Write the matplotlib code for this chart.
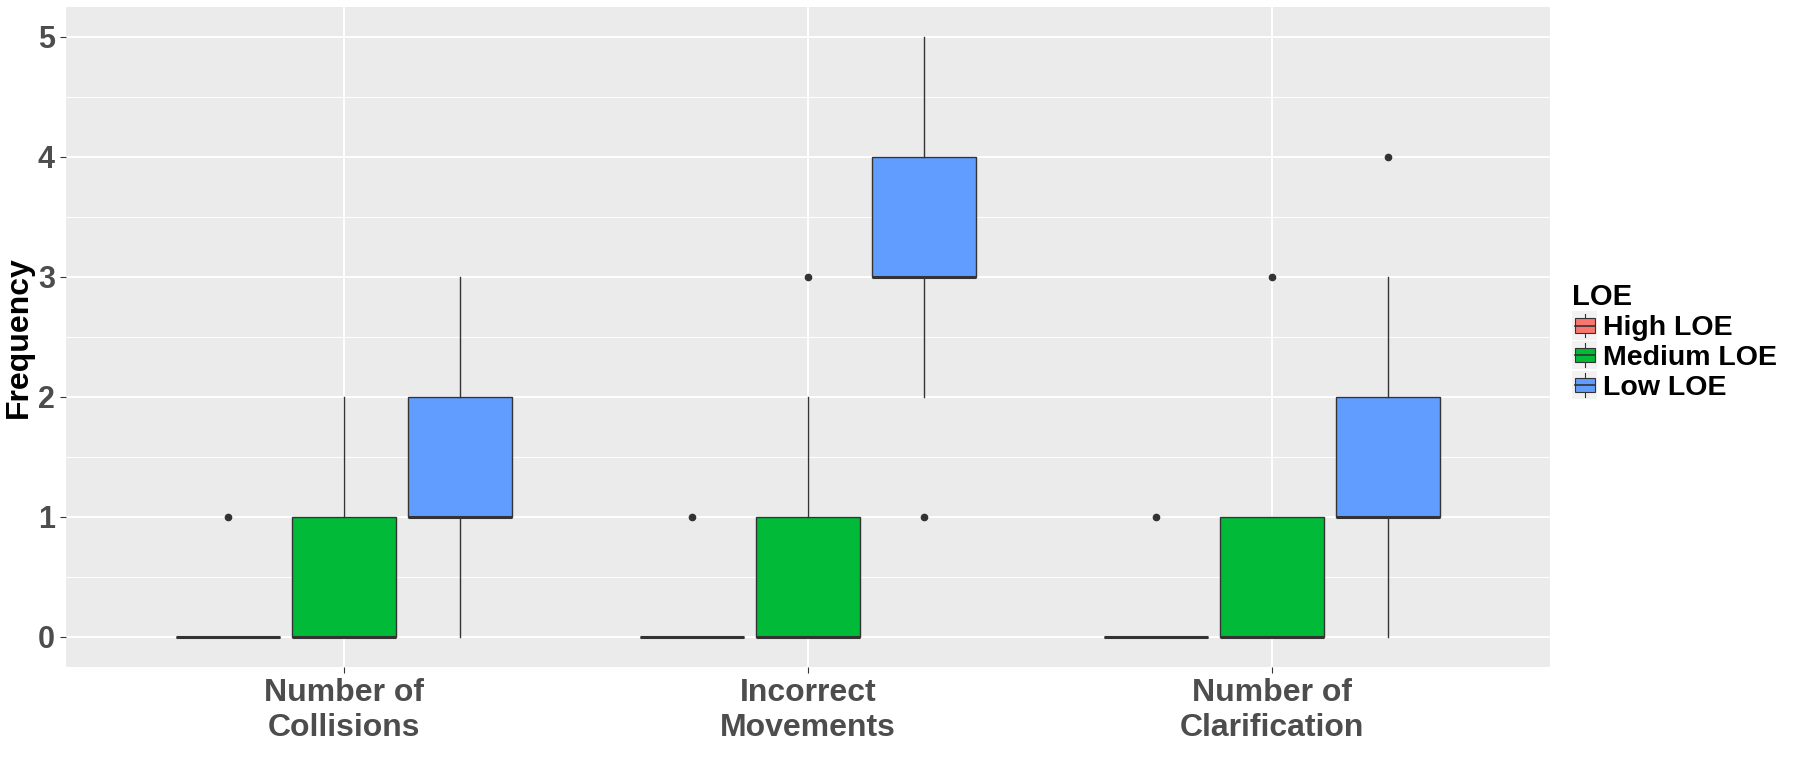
import matplotlib
matplotlib.use("Agg")
import matplotlib.pyplot as plt
from matplotlib.patches import Patch, Rectangle
from matplotlib.lines import Line2D
from matplotlib.legend_handler import HandlerBase
import numpy as np

plt.rcParams['font.family'] = ['Liberation Sans', 'DejaVu Sans']
plt.rcParams['font.weight'] = 'bold'

# categories on x axis, groups within each category
categories = ["Number of\nCollisions", "Incorrect\nMovements", "Number of\nClarification"]
groups = ["High LOE", "Medium LOE", "Low LOE"]
colors = ["#F8766D", "#00BA38", "#619CFF"]

# box statistics: [category][group]
q1 = [[0, 0, 1], [0, 0, 3], [0, 0, 1]]
med = [[0, 0, 1], [0, 0, 3], [0, 0, 1]]
q3 = [[0, 1, 2], [0, 1, 4], [0, 1, 2]]
whislo = [[0, 0, 0], [0, 0, 2], [0, 0, 0]]
whishi = [[0, 2, 3], [0, 2, 5], [0, 1, 3]]
fliers = [[[1], [], []], [[1], [3], [1]], [[1], [3], [4]]]

dodge = 0.25
box_w = 0.225
dark = "#333333"

fig = plt.figure(figsize=(18.12, 7.81), dpi=100)
ax = fig.add_axes([66 / 1812, 1 - 667 / 781, 1484 / 1812, 660 / 781])
ax.set_facecolor("#EBEBEB")
for s in ax.spines.values():
    s.set_visible(False)

ax.set_xlim(0.4, 3.6)
ax.set_ylim(-0.25, 5.25)
ax.set_yticks(range(6))
ax.set_yticks(np.arange(0.5, 5.0, 1.0), minor=True)
ax.set_xticks([1, 2, 3])
ax.set_xticklabels(categories)
ax.grid(True, which="major", color="white", linewidth=1.4)
ax.grid(True, which="minor", axis="y", color="white", linewidth=0.7)
ax.set_axisbelow(True)
ax.tick_params(which="minor", length=0)
ax.tick_params(which="major", length=4, width=0.8, color=dark, pad=4)
ax.tick_params(axis="y", labelsize=22, labelcolor="#4D4D4D")
ax.tick_params(axis="x", labelsize=23, labelcolor="#4D4D4D")
for lab in ax.get_xticklabels() + ax.get_yticklabels():
    lab.set_fontweight("bold")
ax.set_ylabel("Frequency", fontsize=23, fontweight="bold", color="black", labelpad=3)

for g in range(len(groups)):
    stats = []
    pos = []
    for c in range(len(categories)):
        stats.append(dict(q1=q1[c][g], med=med[c][g], q3=q3[c][g],
                          whislo=whislo[c][g], whishi=whishi[c][g],
                          fliers=fliers[c][g]))
        pos.append(c + 1 + (g - 1) * dodge)
    ax.bxp(stats, positions=pos, widths=box_w, patch_artist=True,
           showcaps=False, manage_ticks=False,
           boxprops=dict(facecolor=colors[g], edgecolor=dark, linewidth=1.0),
           medianprops=dict(color=dark, linewidth=2.2, solid_capstyle="butt"),
           whiskerprops=dict(color=dark, linewidth=1.0),
           flierprops=dict(marker="o", markersize=4.5, markerfacecolor=dark,
                           markeredgecolor=dark))


class BoxKey(HandlerBase):
    def create_artists(self, legend, orig_handle, xdescent, ydescent,
                       width, height, fontsize, trans):
        bg = Rectangle((-xdescent, -ydescent), width, height,
                       facecolor="#F2F2F2", edgecolor="none", transform=trans)
        cx = -xdescent + width / 2
        vline = Line2D([cx, cx], [-ydescent + height * 0.08, -ydescent + height * 0.92],
                       color=dark, linewidth=0.8, transform=trans)
        bx = Rectangle((-xdescent + width * 0.1, -ydescent + height * 0.25),
                       width * 0.8, height * 0.5,
                       facecolor=orig_handle.get_facecolor(), edgecolor=dark,
                       linewidth=0.8, transform=trans)
        mline = Line2D([-xdescent + width * 0.1, -xdescent + width * 0.9],
                       [-ydescent + height / 2] * 2, color=dark, linewidth=1.2,
                       transform=trans)
        return [bg, vline, bx, mline]


handles = [Patch(facecolor=c, label=g) for c, g in zip(colors, groups)]
leg = fig.legend(handles=handles, loc="center left",
                 bbox_to_anchor=(1558 / 1812, 0.562),
                 title="LOE", frameon=False,
                 prop=dict(size=20.5, weight="bold"),
                 title_fontproperties=dict(size=21, weight="bold"),
                 handler_map={Patch: BoxKey()},
                 handlelength=0.88, handleheight=1.15,
                 labelspacing=0.0, handletextpad=0.2, borderpad=0.0)
leg._legend_box.align = "left"

fig.savefig("out.png", dpi=100)
